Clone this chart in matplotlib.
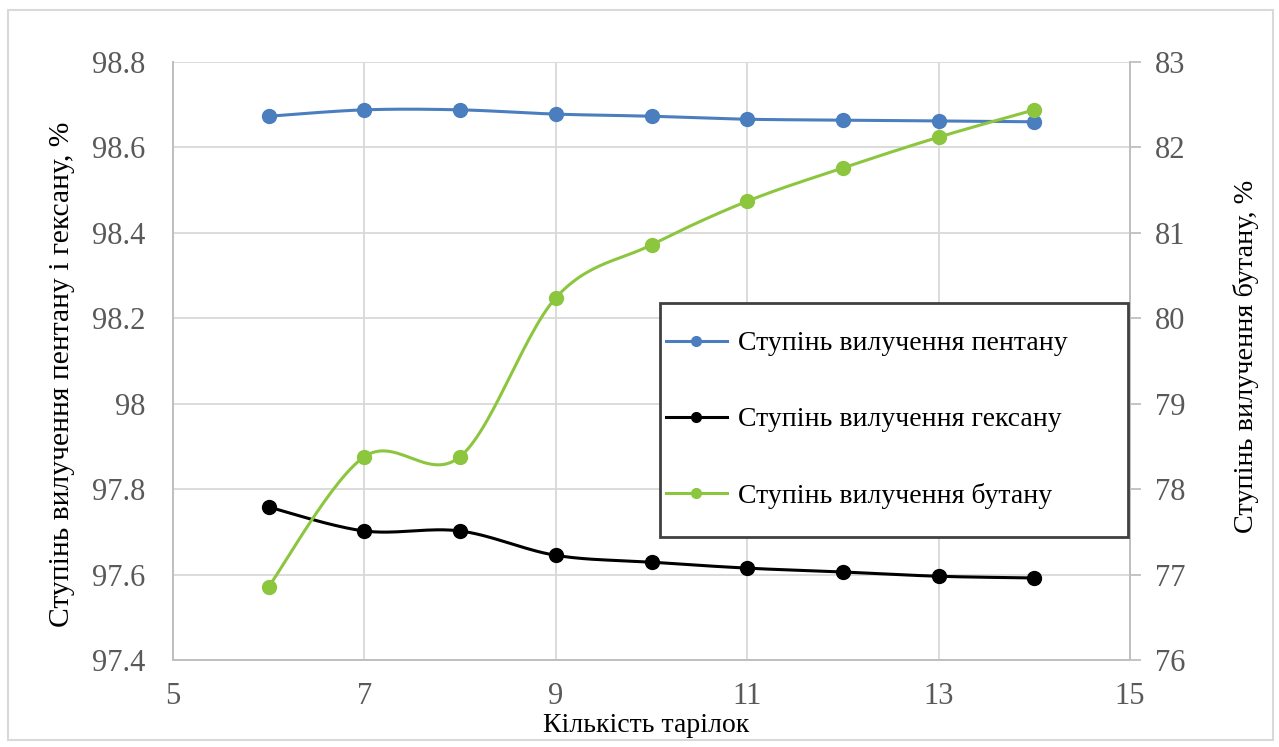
import matplotlib.pyplot as plt
import matplotlib.patches as mpatches
import numpy as np

plt.rcParams['font.family'] = ['Liberation Serif', 'DejaVu Serif']

plates = [6, 7, 8, 9, 10, 11, 12, 13, 14]
pentane = [98.673, 98.688, 98.688, 98.678, 98.673, 98.666, 98.664, 98.662, 98.660]
hexane = [97.758, 97.702, 97.702, 97.645, 97.629, 97.615, 97.606, 97.596, 97.592]
butane = [76.86, 78.38, 78.38, 80.24, 80.86, 81.37, 81.76, 82.12, 82.44]

lbl_pent = 'Ступінь вилучення пентану'
lbl_hex = 'Ступінь вилучення гексану'
lbl_but = 'Ступінь вилучення бутану'


def smooth(x, y, n=30):
    # excel-like smoothed line (catmull-rom bezier)
    x = np.asarray(x, float)
    y = np.asarray(y, float)
    px = np.concatenate([[x[0]], x, [x[-1]]])
    py = np.concatenate([[y[0]], y, [y[-1]]])
    xs, ys = [], []
    t = np.linspace(0, 1, n)
    for i in range(1, len(px) - 2):
        p0 = np.array([px[i], py[i]])
        p3 = np.array([px[i + 1], py[i + 1]])
        c1 = p0 + (np.array([px[i + 1], py[i + 1]]) - np.array([px[i - 1], py[i - 1]])) / 6
        c2 = p3 - (np.array([px[i + 2], py[i + 2]]) - np.array([px[i], py[i]])) / 6
        b = ((1 - t) ** 3)[:, None] * p0 + (3 * (1 - t) ** 2 * t)[:, None] * c1 \
            + (3 * (1 - t) * t ** 2)[:, None] * c2 + (t ** 3)[:, None] * p3
        xs.extend(b[:, 0])
        ys.extend(b[:, 1])
    return xs, ys


fig = plt.figure(figsize=(12.79, 7.47), dpi=100)
fig.patches.append(mpatches.Rectangle((8 / 1279, 7 / 747), 1265 / 1279, 730 / 747,
                                      transform=fig.transFigure, fill=False,
                                      edgecolor='#d9d9d9', linewidth=1.5))
ax = fig.add_axes([0.1353, 0.1165, 0.7482, 0.8005])
ax2 = ax.twinx()

blue = '#4a7ebf'
green = '#8cc63f'
gray = '#595959'

for vals, col in [(pentane, blue), (hexane, 'black')]:
    sx, sy = smooth(plates, vals)
    ax.plot(sx, sy, color=col, lw=2.2, zorder=3)
    ax.plot(plates, vals, 'o', color=col, ms=10, zorder=4)

sx, sy = smooth(plates, butane)
ax2.plot(sx, sy, color=green, lw=2.2, zorder=3)
ax2.plot(plates, butane, 'o', color=green, ms=10, zorder=4)

ax.set_xlim(5, 15)
ax.set_ylim(97.4, 98.8)
ax2.set_ylim(76, 83)
ax.set_xticks([5, 7, 9, 11, 13, 15])
ax.set_yticks(np.arange(97.4, 98.81, 0.2))
ax.set_yticklabels(['97.4', '97.6', '97.8', '98', '98.2', '98.4', '98.6', '98.8'])
ax2.set_yticks(range(76, 84))

ax.grid(True, color='#d9d9d9', lw=1.3)
ax.set_axisbelow(True)
for a in (ax, ax2):
    a.spines['top'].set_visible(False)
    for s in ['left', 'bottom', 'right']:
        a.spines[s].set_color('#bfbfbf')
        a.spines[s].set_linewidth(1.3)
ax.tick_params(axis='y', length=0, labelsize=22, labelcolor=gray, pad=20)
ax.tick_params(axis='x', length=0, labelsize=22, labelcolor=gray, pad=16)
ax2.tick_params(axis='y', length=8, color='#bfbfbf', width=1.3, labelsize=22,
                labelcolor=gray, pad=10)

ax.set_xlabel('Кількість тарілок', fontsize=20)
ax.xaxis.set_label_coords(0.494, -0.089)
ax.set_ylabel('Ступінь вилучення пентану і гексану, %', fontsize=21.3)
ax.yaxis.set_label_coords(-0.102, 0.477)
ax2.set_ylabel('Ступінь вилучення бутану, %', fontsize=20.3)
ax2.yaxis.set_label_coords(1.1075, 0.507)

# legend frame drawn separately so its size matches the original
box = mpatches.Rectangle((0.509, 0.206), 0.489, 0.391, transform=ax2.transAxes,
                         facecolor='white', edgecolor='#404040', lw=2, zorder=5)
ax2.add_patch(box)
handles = [plt.Line2D([], [], color=blue, lw=2.2, marker='o', ms=7),
           plt.Line2D([], [], color='black', lw=2.2, marker='o', ms=7),
           plt.Line2D([], [], color=green, lw=2.2, marker='o', ms=7)]
leg = ax2.legend(handles, [lbl_pent, lbl_hex, lbl_but], loc='center left',
                 bbox_to_anchor=(0.509, 0.4015), frameon=False,
                 fontsize=20, labelspacing=1.82, handlelength=2.2, handletextpad=0.4,
                 borderpad=0.2, borderaxespad=0)
leg.set_zorder(6)

fig.savefig('out.png', dpi=100)
